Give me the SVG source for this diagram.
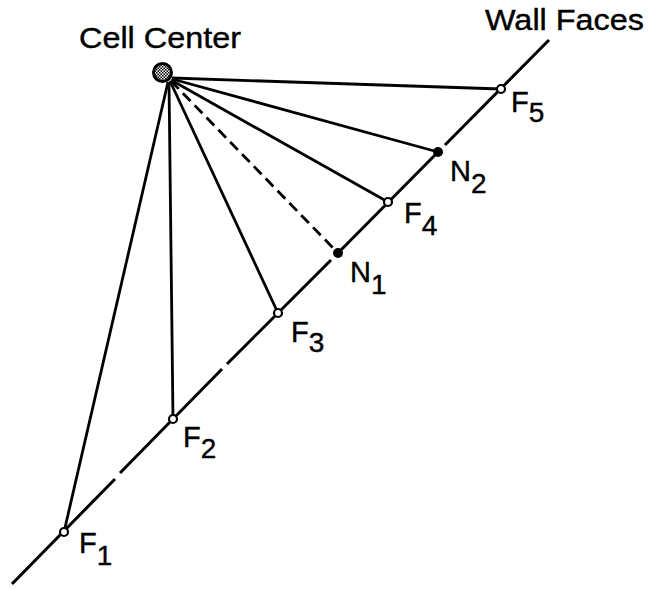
<svg xmlns="http://www.w3.org/2000/svg" width="650" height="589" viewBox="0 0 650 589">
<style>
.ln{stroke:#000;stroke-width:2.8;fill:none;stroke-linecap:butt}
.wall{stroke:#000;stroke-width:3;fill:none}
.dash{stroke-dasharray:11 6}
.open{fill:#fff;stroke:#000;stroke-width:2.2}
.fill{fill:#000}
.t{font-family:"Liberation Sans",Arial,sans-serif;font-size:29px;fill:#000;stroke:#000;stroke-width:0.4}
.s{font-size:28px}
.h{font-family:"Liberation Sans",Arial,sans-serif;font-size:29.5px;fill:#000;stroke:#000;stroke-width:0.4}
</style>
<defs>
<pattern id="chk" width="3" height="3" patternUnits="userSpaceOnUse">
<rect width="3" height="3" fill="#fff"/>
<rect width="1.5" height="1.5" fill="#000"/>
<rect x="1.5" y="1.5" width="1.5" height="1.5" fill="#000"/>
</pattern>
</defs>
<g id="connectors">
<path class="wall" d="M12,584 L115,479 M120,473 L222,369 M227,364 L331,260 M338,253 L438,152 M445,145 L549,40"/>
<line class="ln" x1="168" y1="82" x2="64" y2="532"/>
<line class="ln" x1="169" y1="82" x2="173" y2="419"/>
<line class="ln" x1="170" y1="81" x2="278" y2="313"/>
<line class="ln dash" x1="171" y1="81" x2="336" y2="251"/>
<line class="ln" x1="171" y1="80" x2="388" y2="202"/>
<line class="ln" x1="172" y1="79" x2="438" y2="152"/>
<line class="ln" x1="172" y1="78" x2="501" y2="89"/>
</g>
<g id="cell-center">
<circle cx="162.5" cy="72.5" r="9" fill="url(#chk)" stroke="#000" stroke-width="3"/>
<text class="h" x="79" y="48" textLength="162" lengthAdjust="spacingAndGlyphs">Cell Center</text>
</g>
<g id="wall-faces">
<text class="h" x="485" y="30" textLength="159" lengthAdjust="spacingAndGlyphs">Wall Faces</text>
</g>
<g id="F1"><circle class="open" cx="64" cy="532" r="4"/><text class="t" x="79" y="553">F<tspan class="s" dy="12">1</tspan></text></g>
<g id="F2"><circle class="open" cx="173" cy="419" r="4"/><text class="t" x="183" y="447">F<tspan class="s" dy="11">2</tspan></text></g>
<g id="F3"><circle class="open" cx="278" cy="313" r="4"/><text class="t" x="291" y="342">F<tspan class="s" dy="10">3</tspan></text></g>
<g id="N1"><circle class="fill" cx="338" cy="253" r="5"/><text class="t" x="350" y="282">N<tspan class="s" dy="12">1</tspan></text></g>
<g id="F4"><circle class="open" cx="388" cy="202" r="4"/><text class="t" x="404" y="223">F<tspan class="s" dy="12">4</tspan></text></g>
<g id="N2"><circle class="fill" cx="438" cy="152" r="5"/><text class="t" x="450" y="181">N<tspan class="s" dy="12">2</tspan></text></g>
<g id="F5"><circle class="open" cx="501" cy="89" r="4"/><text class="t" x="511" y="112">F<tspan class="s" dy="10">5</tspan></text></g>
</svg>
